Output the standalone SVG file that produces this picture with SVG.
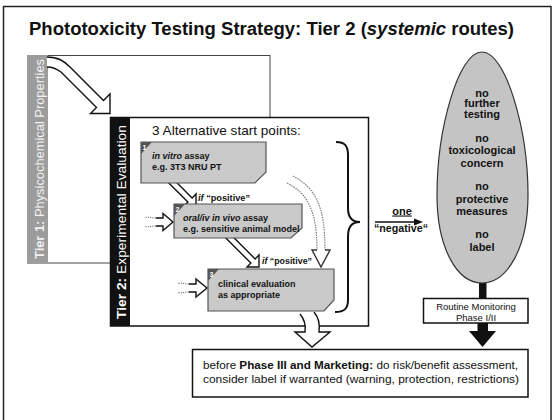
<svg xmlns="http://www.w3.org/2000/svg" width="553" height="420" viewBox="0 0 553 420">
  <style>
    text { font-family: "Liberation Sans", Arial, sans-serif; fill: #111; }
    .b { font-weight: bold; }
    .i { font-style: italic; }
    .step { fill: #c9c9c9; stroke: #555; stroke-width: 1.2; }
    .corner { fill: #555; }
    .num { font-size: 7px; font-weight: bold; fill: #fff; }
    .boxtxt { font-size: 9px; font-weight: bold; }
    .hollow { fill: #fff; stroke: #111; stroke-width: 1.4; stroke-linejoin: miter; }
    .tail { fill: none; stroke: #666; stroke-width: 1; stroke-dasharray: 1.2 1.2; }
    .faint { fill: none; stroke: #777; stroke-width: 1.1; stroke-dasharray: 1.5 1; }
    .frame { fill: #fff; stroke: #111; stroke-width: 1.5; }
    .oval { font-size: 11px; font-weight: bold; text-anchor: middle; }
  </style>

  <!-- page frame and heading -->
  <rect x="3.5" y="6.5" width="547.5" height="420" fill="#fff" stroke="#222" stroke-width="1.5"/>
  <text x="29" y="35" class="b" font-size="18" textLength="485" lengthAdjust="spacingAndGlyphs">Phototoxicity Testing Strategy: Tier 2 (<tspan class="i">systemic</tspan> routes)</text>

  <!-- Tier 1 panel -->
  <g id="tier1">
    <rect x="27.5" y="55.5" width="242.5" height="207.5" fill="#fff" stroke="#444" stroke-width="1"/>
    <rect x="27" y="55" width="21" height="208" fill="#9c9c9c"/>
    <text transform="translate(44,259) rotate(-90)" font-size="12.5" textLength="200" lengthAdjust="spacingAndGlyphs" style="fill:#f2f2f2"><tspan class="b" style="fill:#f2f2f2">Tier 1:</tspan> Physicochemical Properties</text>
  </g>

  <!-- Tier 2 panel -->
  <g id="tier2">
    <rect x="110.5" y="117.5" width="258" height="208.5" class="frame"/>
    <rect x="110" y="117" width="20" height="209" fill="#111"/>
    <text transform="translate(125.5,319) rotate(-90)" font-size="13" textLength="194" lengthAdjust="spacingAndGlyphs" style="fill:#fff"><tspan class="b" style="fill:#fff">Tier 2:</tspan> Experimental Evaluation</text>
    <text x="152" y="135" font-size="13.6">3 Alternative start points:</text>
  </g>

  <!-- connectors -->
  <g id="connectors">
    <!-- Tier 1 into Tier 2 -->
    <path class="hollow" d="M47,57 C58,57 64,61 70,67 L103.5,100.5 L110,94 L110,113.5 L90.5,113.5 L96.5,107.5 L61,72 C57,69 53,67 47,67"/>
    <!-- step 1 to step 2 -->
    <path class="hollow" d="M172.2,178 L192.1,197.9 L196,194 L196,206 L184,206 L187.9,202.1 L163.8,178"/>
    <!-- step 2 to step 3 -->
    <path class="hollow" d="M229.2,233 L255.1,258.9 L259,255 L259,267 L247,267 L250.9,263.1 L220.8,233"/>
    <!-- alternative entry into step 2 -->
    <path class="hollow" d="M156,218 H163 V213.5 L173,222 L163,230.5 V226 H156"/>
    <path class="tail" d="M156,218 C151,218 149,216.5 144,217.5 M156,226 C151,226 149,227.5 144,226.5"/>
    <!-- alternative entry into step 3 -->
    <path class="hollow" d="M189,284 H196 V279 L207,288 L196,297 V292 H189"/>
    <path class="tail" d="M189,284 C184,284 182,282.5 177,283.5 M189,292 C184,292 182,293.5 177,292.5"/>
    <!-- direct route down to clinical evaluation -->
    <path class="faint" d="M293,176 C315,188 325,205 325,250 M287,183 C307,193 317,210 317,250"/>
    <path class="hollow" style="stroke:#333" d="M317,250 H312 L321,267 L330,250 H325"/>
    <!-- exit towards Phase III -->
    <path class="hollow" d="M300,314 C305,320 306,325 305,332 H295 L312,347 L330,332 H319 C320,325 319,318 314,312"/>
    <!-- brace and "one negative" arrow -->
    <path d="M336,142 C345,142 348,146 348,155 V208 C348,217 352,222 360,222 C352,222 348,227 348,236 V300 C348,309 344,312 335,312" fill="none" stroke="#111" stroke-width="2"/>
    <line x1="375" y1="222" x2="416" y2="222" stroke="#111" stroke-width="1.6"/>
    <polygon points="414,218.5 423,222 414,225.5" fill="#111"/>
    <text x="402" y="214.5" class="b" font-size="11" text-anchor="middle" text-decoration="underline">one</text>
    <text x="401" y="232" class="b" font-size="11.5" text-anchor="middle" textLength="54" lengthAdjust="spacingAndGlyphs">“negative“</text>
    <!-- oval to monitoring, monitoring to Phase III -->
    <rect x="479" y="282" width="7.5" height="16" fill="#111"/>
    <rect x="477.5" y="323" width="10.5" height="8.5" fill="#111"/>
    <polygon points="469,331 496,331 482.5,347" fill="#111"/>
    <!-- condition labels -->
    <text x="198" y="201" font-size="9" class="b" textLength="52" lengthAdjust="spacingAndGlyphs"><tspan class="i">if</tspan> “positive”</text>
    <text x="262" y="264" font-size="9" class="b" textLength="50" lengthAdjust="spacingAndGlyphs"><tspan class="i">if</tspan> “positive”</text>
  </g>

  <!-- step 1 -->
  <g id="step-invitro">
    <path class="step" d="M141,142 H266 V172 L255,183 H141 Z"/>
    <polygon class="corner" points="141,142 152,142 141,154"/>
    <text x="142.5" y="149.5" class="num">1</text>
    <text x="152" y="158.5" class="boxtxt"><tspan class="i">in vitro</tspan> assay</text>
    <text x="152" y="169.5" class="boxtxt">e.g. 3T3 NRU PT</text>
  </g>

  <!-- step 2 -->
  <g id="step-invivo">
    <path class="step" d="M174,204 H302 V228 L291,238 H174 Z"/>
    <polygon class="corner" points="174,204 185,204 174,216"/>
    <text x="175.5" y="211.5" class="num">2</text>
    <text x="183" y="221" class="boxtxt"><tspan class="i">oral/iv in vivo</tspan> assay</text>
    <text x="183" y="232" class="boxtxt">e.g. sensitive animal model</text>
  </g>

  <!-- step 3 -->
  <g id="step-clinical">
    <path class="step" d="M208,269 H334 V300 L324,311 H208 Z"/>
    <polygon class="corner" points="208,269 219,269 208,281"/>
    <text x="209.5" y="276.5" class="num">3</text>
    <text x="218" y="287" class="boxtxt">clinical evaluation</text>
    <text x="218" y="298" class="boxtxt">as appropriate</text>
  </g>

  <!-- outcome oval -->
  <g id="outcome">
    <path d="M482,52 C506,52 528,130 528,195 C528,248 507,283 482,283 C457,283 437,248 437,195 C437,130 458,52 482,52 Z" fill="#c4c4c4" stroke="#333" stroke-width="1.2"/>
    <text x="482" y="96.5" class="oval">no</text>
    <text x="482" y="107" class="oval">further</text>
    <text x="482" y="117.5" class="oval">testing</text>
    <text x="482" y="141.5" class="oval">no</text>
    <text x="482" y="154" class="oval">toxicological</text>
    <text x="482" y="166.5" class="oval">concern</text>
    <text x="482" y="190" class="oval">no</text>
    <text x="482" y="202.5" class="oval">protective</text>
    <text x="482" y="215" class="oval">measures</text>
    <text x="482" y="238" class="oval">no</text>
    <text x="482" y="250.5" class="oval">label</text>
  </g>

  <!-- routine monitoring -->
  <g id="routine-monitoring">
    <rect x="423.5" y="298.5" width="104.5" height="24.5" class="frame"/>
    <text x="476" y="310" font-size="9.5" text-anchor="middle">Routine Monitoring</text>
    <text x="476" y="320.5" font-size="9.5" text-anchor="middle">Phase I/II</text>
  </g>

  <!-- Phase III and marketing -->
  <g id="phase3">
    <rect x="192.5" y="349.5" width="335.5" height="47.5" class="frame"/>
    <text x="203" y="369" font-size="11" textLength="315" lengthAdjust="spacingAndGlyphs">before <tspan class="b">Phase III and Marketing:</tspan> do risk/benefit assessment,</text>
    <text x="203" y="383" font-size="11" textLength="316" lengthAdjust="spacingAndGlyphs">consider label if warranted (warning, protection, restrictions)</text>
  </g>
</svg>
